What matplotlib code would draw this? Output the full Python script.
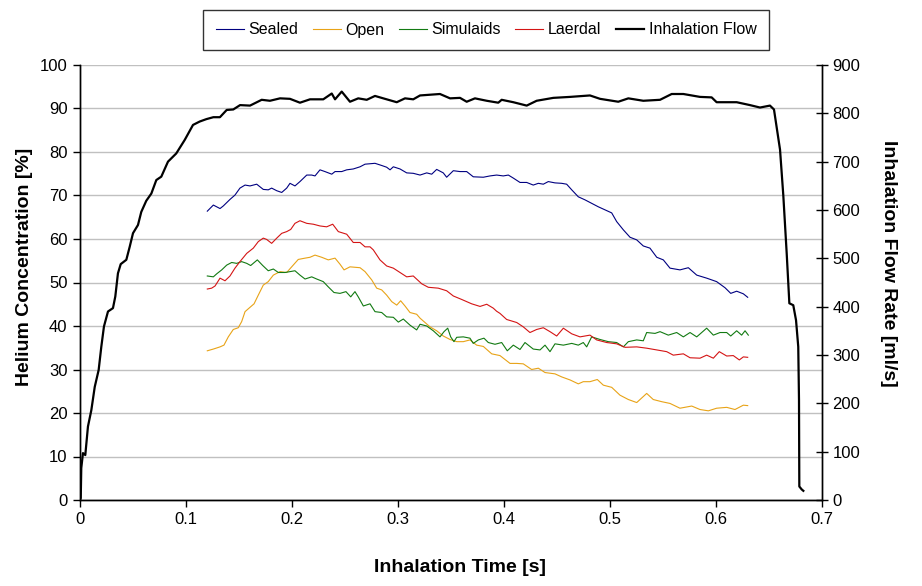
import matplotlib
matplotlib.use("Agg")
import matplotlib.pyplot as plt

plt.rcParams['font.family'] = ['Liberation Sans', 'DejaVu Sans']

# ---- Inhalation flow (right axis, ml/s) ----
flow_t = [0.0, 0.0007, 0.0012, 0.0028, 0.005, 0.0075, 0.0107, 0.0139, 0.0176, 0.0201, 0.0226,
          0.0264, 0.0311, 0.0333, 0.0358, 0.0384, 0.0437, 0.0469, 0.05, 0.0547, 0.0578,
          0.0625, 0.0673, 0.072, 0.0767, 0.083, 0.0908, 0.0988, 0.1066, 0.1129, 0.1192,
          0.1258, 0.132, 0.1384, 0.1446, 0.151, 0.1604, 0.1714, 0.1792, 0.1887, 0.1981,
          0.2075, 0.217, 0.2295, 0.2375, 0.2406, 0.2469, 0.2547, 0.2625, 0.2705, 0.2783,
          0.2861, 0.2988, 0.3066, 0.3144, 0.3208, 0.3396, 0.3491, 0.3585, 0.3648, 0.3726,
          0.3837, 0.3946, 0.3978, 0.4088, 0.4214, 0.4308, 0.4465, 0.4623, 0.4811, 0.4906,
          0.5078, 0.5173, 0.5314, 0.5472, 0.5582, 0.5692, 0.5849, 0.5959, 0.6006, 0.6195,
          0.6321, 0.6415, 0.6509, 0.6547, 0.6604, 0.6635, 0.6667, 0.6692, 0.6729, 0.6755,
          0.6776, 0.6783, 0.6786, 0.6808, 0.6824]
flow_v = [0, 4, 66, 97, 93, 152, 186, 234, 269, 317, 359,
          390, 397, 421, 469, 488, 497, 524, 552, 569, 596,
          619, 634, 662, 669, 700, 717, 745, 776, 783, 788,
          792, 792, 807, 808, 817, 816, 828, 826, 831, 830,
          822, 829, 829, 841, 829, 845, 824, 831, 828, 836,
          831, 823, 831, 829, 837, 840, 831, 832, 824, 831,
          826, 822, 828, 823, 816, 826, 832, 834, 837, 830,
          824, 831, 826, 828, 840, 840, 834, 833, 823, 823,
          817, 812, 816, 808, 725, 630, 510, 407, 403, 372,
          317, 207, 28, 22, 19]

# ---- Helium concentration (left axis, %) ----
sealed_t = [0.1201, 0.1258, 0.1321, 0.1352, 0.1415, 0.1462, 0.1509, 0.1557, 0.1604, 0.1667,
            0.1729, 0.1776, 0.1808, 0.1856, 0.1903, 0.195, 0.1981, 0.2028, 0.2075, 0.2139,
            0.2186, 0.2217, 0.2264, 0.2311, 0.2375, 0.2406, 0.2469, 0.2516, 0.2578, 0.2642,
            0.2689, 0.2783, 0.2846, 0.2893, 0.2925, 0.2956, 0.3019, 0.3082, 0.3144, 0.3208,
            0.3271, 0.3318, 0.3365, 0.3427, 0.3459, 0.3522, 0.3585, 0.3648, 0.371, 0.3805,
            0.3868, 0.3931, 0.3993, 0.4041, 0.4088, 0.4151, 0.4214, 0.4276, 0.4324, 0.4371,
            0.4418, 0.4481, 0.4544, 0.4591, 0.4639, 0.4701, 0.4764, 0.4827, 0.489, 0.4953,
            0.5016, 0.5063, 0.5126, 0.5189, 0.5252, 0.5314, 0.5377, 0.5441, 0.5503, 0.5566,
            0.566, 0.5739, 0.5818, 0.5912, 0.6006, 0.6085, 0.6139, 0.6195, 0.6258, 0.6299]
sealed_v = [66.4, 67.8, 67.0, 67.6, 69.1, 70.1, 71.7, 72.4, 72.2, 72.6,
            71.4, 71.3, 71.7, 71.1, 70.7, 71.7, 72.8, 72.2, 73.2, 74.7,
            74.7, 74.5, 75.9, 75.5, 74.9, 75.5, 75.5, 75.9, 76.1, 76.6,
            77.2, 77.4, 76.9, 76.5, 75.9, 76.6, 76.1, 75.2, 75.1, 74.7,
            75.2, 74.9, 76.0, 75.2, 74.2, 75.7, 75.5, 75.5, 74.3, 74.2,
            74.5, 74.7, 74.5, 74.7, 74.0, 73.0, 73.0, 72.4, 72.8, 72.6,
            73.2, 72.9, 72.8, 72.6, 71.3, 69.7, 69.0, 68.2, 67.4, 66.7,
            66.0, 64.0, 62.1, 60.4, 59.8, 58.4, 57.9, 55.8, 55.2, 53.3,
            52.9, 53.4, 51.7, 51.0, 50.2, 48.8, 47.5, 48.0, 47.4, 46.6]

open_t = [0.1201, 0.1258, 0.1321, 0.1358, 0.1399, 0.1446, 0.1493, 0.1525, 0.1557, 0.1604,
          0.1642, 0.1682, 0.1729, 0.1776, 0.1824, 0.1887, 0.195, 0.1997, 0.2059, 0.2123,
          0.217, 0.2217, 0.228, 0.2342, 0.2406, 0.2453, 0.2491, 0.2547, 0.2642, 0.2689,
          0.2752, 0.2799, 0.2846, 0.2893, 0.2941, 0.2988, 0.3025, 0.3066, 0.3113, 0.3176,
          0.3208, 0.3255, 0.3302, 0.3365, 0.3427, 0.3491, 0.3554, 0.3616, 0.3679, 0.3742,
          0.3805, 0.3884, 0.3962, 0.4057, 0.412, 0.4182, 0.4261, 0.4324, 0.4387, 0.4481,
          0.4544, 0.4623, 0.4701, 0.4748, 0.4811, 0.488, 0.4937, 0.5016, 0.5094, 0.5173,
          0.5252, 0.5346, 0.5408, 0.5488, 0.5566, 0.566, 0.5771, 0.5849, 0.5928, 0.6006,
          0.6101, 0.6179, 0.6258, 0.6299]
open_v = [34.3, 34.7, 35.2, 35.6, 37.5, 39.2, 39.6, 41.0, 43.3, 44.3,
          45.1, 47.1, 49.4, 50.2, 51.7, 52.5, 52.3, 53.6, 55.3, 55.6,
          55.8, 56.3, 55.8, 55.2, 55.6, 54.2, 52.9, 53.6, 53.4, 52.5,
          50.6, 48.7, 48.3, 47.1, 45.6, 44.8, 45.8, 44.6, 43.1, 42.7,
          41.8, 40.8, 39.8, 38.9, 37.7, 36.9, 36.4, 36.4, 36.8, 35.6,
          35.3, 33.6, 33.2, 31.4, 31.4, 31.3, 30.0, 30.3, 29.3, 29.0,
          28.3, 27.6, 26.7, 27.2, 27.2, 27.7, 26.4, 25.9, 24.1, 23.1,
          22.4, 24.5, 23.1, 22.6, 22.2, 21.1, 21.6, 20.8, 20.5, 21.1,
          21.3, 20.8, 21.8, 21.7]

simulaids_t = [0.1201, 0.1258, 0.129, 0.1337, 0.1384, 0.1431, 0.1478, 0.1525, 0.1573, 0.161,
               0.1673, 0.1724, 0.1776, 0.1824, 0.1871, 0.1934, 0.1981, 0.2028, 0.2075, 0.2123,
               0.2186, 0.2233, 0.2295, 0.2342, 0.2396, 0.2453, 0.2509, 0.2554, 0.2594, 0.2625,
               0.2673, 0.2736, 0.2783, 0.2846, 0.2893, 0.2956, 0.3003, 0.305, 0.3113, 0.3176,
               0.3208, 0.3271, 0.3333, 0.3396, 0.3434, 0.3469, 0.3497, 0.3528, 0.3554, 0.3616,
               0.3679, 0.371, 0.3758, 0.3811, 0.3852, 0.3915, 0.3978, 0.4031, 0.4088, 0.4151,
               0.4198, 0.4276, 0.434, 0.4387, 0.4434, 0.4481, 0.456, 0.4639, 0.4701, 0.4748,
               0.478, 0.4827, 0.4906, 0.4984, 0.5063, 0.5126, 0.5173, 0.5252, 0.5314, 0.5346,
               0.5425, 0.5472, 0.555, 0.5629, 0.5692, 0.5755, 0.5818, 0.5912, 0.5975, 0.6038,
               0.6101, 0.6139, 0.6195, 0.6242, 0.6274, 0.6305]
simulaids_v = [51.5, 51.3, 52.0, 52.9, 54.0, 54.6, 54.4, 54.8, 54.4, 53.9,
               55.2, 53.9, 52.7, 53.1, 52.3, 52.3, 52.5, 52.7, 51.7, 50.8,
               51.3, 50.8, 50.2, 49.0, 47.7, 47.5, 47.9, 46.7, 47.9, 46.7,
               44.6, 45.1, 43.3, 43.1, 42.1, 42.0, 40.9, 41.6, 40.2, 39.1,
               40.4, 40.0, 38.9, 37.5, 38.7, 39.5, 37.5, 36.4, 37.4, 37.5,
               37.2, 36.0, 36.8, 37.2, 36.2, 35.8, 36.2, 34.3, 35.6, 34.6,
               36.2, 34.7, 34.5, 35.6, 34.1, 35.9, 35.6, 36.0, 35.6, 36.2,
               35.2, 37.5, 36.9, 36.4, 36.2, 35.2, 36.4, 36.8, 36.6, 38.5,
               38.3, 38.7, 37.9, 38.5, 37.5, 38.5, 37.5, 39.5, 37.9, 38.5,
               38.5, 37.7, 38.9, 37.9, 38.9, 37.9]

laerdal_t = [0.1201, 0.1242, 0.1274, 0.1321, 0.1368, 0.1415, 0.1462, 0.1509, 0.1573, 0.1635,
             0.1682, 0.1729, 0.1761, 0.1808, 0.1856, 0.1903, 0.195, 0.1988, 0.2028, 0.2075,
             0.2139, 0.2201, 0.2264, 0.2327, 0.2384, 0.2437, 0.2516, 0.2578, 0.2642, 0.2689,
             0.2736, 0.2767, 0.283, 0.2893, 0.2956, 0.3019, 0.3082, 0.3144, 0.3224, 0.3286,
             0.338, 0.3459, 0.3522, 0.3601, 0.3695, 0.3774, 0.3837, 0.3899, 0.393, 0.3962,
             0.4025, 0.412, 0.4182, 0.4245, 0.4308, 0.4371, 0.4434, 0.4497, 0.456, 0.4639,
             0.4717, 0.4811, 0.4874, 0.4969, 0.5063, 0.5142, 0.5252, 0.5346, 0.5441, 0.5535,
             0.5597, 0.5692, 0.5755, 0.5849, 0.5912, 0.5975, 0.6031, 0.6101, 0.6163, 0.622,
             0.6258, 0.6299]
laerdal_v = [48.5, 48.7, 49.2, 51.0, 50.4, 51.5, 53.3, 54.8, 56.7, 57.9,
             59.4, 60.2, 59.9, 59.0, 60.2, 61.3, 61.7, 62.2, 63.6, 64.2,
             63.6, 63.4, 63.0, 62.8, 63.4, 61.7, 61.1, 59.2, 59.2, 58.2,
             58.2, 57.5, 55.2, 53.8, 53.3, 52.3, 51.3, 51.5, 49.7, 48.9,
             48.7, 48.1, 46.9, 46.1, 45.1, 44.5, 45.0, 44.1, 43.4, 42.9,
             41.5, 40.8, 39.8, 38.5, 39.2, 39.6, 38.7, 37.7, 39.5, 38.2,
             37.5, 37.9, 36.8, 36.2, 35.9, 35.1, 35.2, 34.9, 34.5, 34.1,
             33.3, 33.6, 32.7, 32.6, 33.3, 32.6, 34.1, 33.1, 33.2, 32.2,
             32.9, 32.8]

x_ticks = [0, 0.1, 0.2, 0.3, 0.4, 0.5, 0.6, 0.7]
x_labels = ['0', '0.1', '0.2', '0.3', '0.4', '0.5', '0.6', '0.7']
left_ticks = [0, 10, 20, 30, 40, 50, 60, 70, 80, 90, 100]
right_ticks = [0, 100, 200, 300, 400, 500, 600, 700, 800, 900]

tick_family = ['Liberation Sans Narrow', 'Liberation Sans', 'DejaVu Sans']

fig = plt.figure(figsize=(9.22, 5.86), dpi=100)
ax = fig.add_axes([80/922, 86/586, 742/922, 435/586])
ax2 = ax.twinx()

l1, = ax.plot(sealed_t, sealed_v, color='#000080', lw=0.8, label='Sealed')
l2, = ax.plot(open_t, open_v, color='#E8A317', lw=0.8, label='Open')
l3, = ax.plot(simulaids_t, simulaids_v, color='#127A12', lw=0.8, label='Simulaids')
l4, = ax.plot(laerdal_t, laerdal_v, color='#D41414', lw=0.8, label='Laerdal')
l5, = ax2.plot(flow_t, flow_v, color='black', lw=1.6, label='Inhalation Flow')

ax.set_xlim(0, 0.7)
ax.set_ylim(0, 100)
ax2.set_ylim(0, 900)
ax.set_xticks(x_ticks)
ax.set_xticklabels(x_labels)
ax.set_yticks(left_ticks)
ax2.set_yticks(right_ticks)

ax.yaxis.grid(True, color='#c0c0c0', lw=1)
ax.set_axisbelow(True)
for a in (ax, ax2):
    a.spines['top'].set_visible(False)
    for s in ('left', 'right', 'bottom'):
        a.spines[s].set_color('black')
        a.spines[s].set_linewidth(1)
ax.tick_params(axis='both', direction='out', length=5, width=1, labelsize=12, pad=4)
ax2.tick_params(axis='y', direction='inout', length=9, width=1, labelsize=12, pad=3)
for lab in ax.get_xticklabels() + ax.get_yticklabels() + ax2.get_yticklabels():
    lab.set_family(tick_family)

ax.set_xlabel('Inhalation Time [s]', fontsize=14, fontweight='bold')
ax.xaxis.set_label_coords(0.512, -0.136)
ax.set_ylabel('Helium Concentration [%]', fontsize=14, fontweight='bold')
ax.yaxis.set_label_coords(-0.064, 0.536)
ax2.set_ylabel('Inhalation Flow Rate [ml/s]', fontsize=14, fontweight='bold', rotation=-90, va='center')
ax2.yaxis.set_label_coords(1.089, 0.545)

leg = fig.legend(handles=[l1, l2, l3, l4, l5], loc='center', bbox_to_anchor=(486/922, 1 - 30/586),
                 ncol=5, fontsize=11.5, frameon=True, fancybox=False, edgecolor='black',
                 handlelength=1.75, handletextpad=0.3, columnspacing=0.9, borderpad=0.8)
leg.get_frame().set_linewidth(1)

fig.savefig('out.png', dpi=100)
